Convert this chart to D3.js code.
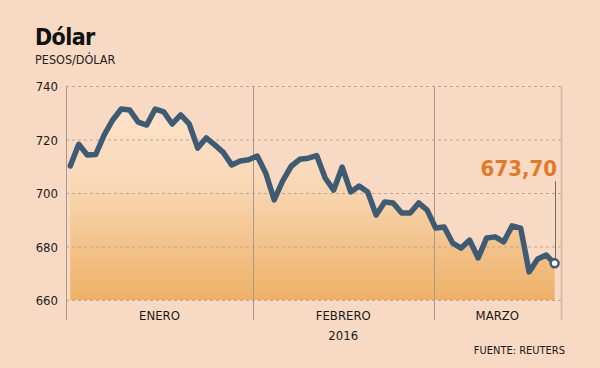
<!DOCTYPE html>
<html>
<head>
<meta charset="utf-8">
<script src="https://cdn.jsdelivr.net/npm/d3@7"></script>
<style>
  html, body { margin: 0; padding: 0; background: #f8d9c4; }
  svg { display: block; font-family: "DejaVu Sans Condensed", "DejaVu Sans", sans-serif; }
</style>
</head>
<body>
<div id="chart"></div>
<script>
// Dólar, pesos por dólar, cierre diario ene-mar 2016
const values = [
  710.1, 718.2, 714.2, 714.4, 721.7, 727.3, 731.4, 731.0, 726.5, 725.4,
  731.4, 730.3, 725.8, 729.2, 725.8, 716.8, 720.6, 718.0, 715.2, 710.5,
  712.0, 712.4, 713.8, 707.5, 697.4, 704.5, 710.0, 712.6, 713.0, 714.0,
  705.6, 701.1, 709.7, 700.4, 702.6, 700.4, 691.8, 696.6, 696.3, 692.5,
  692.5, 696.3, 693.6, 686.9, 687.3, 681.3, 679.4, 682.4, 675.7, 683.2,
  683.6, 681.7, 687.7, 686.9, 670.5, 675.3, 676.8, 673.7
];
const yTicks = [660, 680, 700, 720, 740];
const months = ['ENERO', 'FEBRERO', 'MARZO'];
// month boundaries, in day index units
const monthEdges = [-0.5, 21.5, 42.75, 57.75];
const lastLabel = '673,70';

const width = 600, height = 368;
const margin = { left: 66, right: 39, top: 86, bottom: 68 };

const svg = d3.select('#chart').append('svg')
  .attr('width', width)
  .attr('height', height);

const x = d3.scaleLinear()
  .domain([monthEdges[0], monthEdges[monthEdges.length - 1]])
  .range([margin.left, width - margin.right]);

const y = d3.scaleLinear()
  .domain([660, 740])
  .range([height - margin.bottom, margin.top]);

// gradient for the area
const defs = svg.append('defs');
const grad = defs.append('linearGradient')
  .attr('id', 'areaGrad')
  .attr('gradientUnits', 'userSpaceOnUse')
  .attr('x1', 0).attr('x2', 0)
  .attr('y1', y(740)).attr('y2', y(660));
grad.append('stop').attr('offset', '0%').attr('stop-color', '#fce6d2');
grad.append('stop').attr('offset', '45%').attr('stop-color', '#f9d8b6');
grad.append('stop').attr('offset', '100%').attr('stop-color', '#eeb067');

// title
svg.append('text')
  .attr('x', 35).attr('y', 45)
  .attr('font-size', 23).attr('font-weight', 'bold')
  .attr('letter-spacing', -0.6)
  .attr('fill', '#111')
  .text('Dólar');
svg.append('text')
  .attr('x', 35).attr('y', 64)
  .attr('font-size', 12.5)
  .attr('fill', '#222')
  .text('PESOS/DÓLAR');

// area
const area = d3.area()
  .x((d, i) => x(i))
  .y0(y(660))
  .y1(d => y(d));
svg.append('path')
  .datum(values)
  .attr('d', area)
  .attr('fill', 'url(#areaGrad)');

// horizontal dashed grid
svg.append('g')
  .selectAll('line')
  .data(yTicks)
  .join('line')
  .attr('x1', x.range()[0]).attr('x2', x.range()[1])
  .attr('y1', d => y(d) + 0.5).attr('y2', d => y(d) + 0.5)
  .attr('stroke', '#bba595')
  .attr('stroke-width', 1)
  .attr('stroke-dasharray', '3,3');

// y tick labels
svg.append('g')
  .selectAll('text')
  .data(yTicks)
  .join('text')
  .attr('x', 58)
  .attr('y', d => y(d) + 5)
  .attr('text-anchor', 'end')
  .attr('font-size', 13)
  .attr('fill', '#1a1a1a')
  .text(d => d);

// month separators
svg.append('g')
  .selectAll('line')
  .data(monthEdges)
  .join('line')
  .attr('x1', d => Math.round(x(d)) + 0.5).attr('x2', d => Math.round(x(d)) + 0.5)
  .attr('y1', y(740)).attr('y2', 320)
  .attr('stroke', (d, i) => i === monthEdges.length - 1 ? '#d6bcab' : '#a8998f')
  .attr('stroke-width', (d, i) => i === monthEdges.length - 1 ? 2 : 1);

// month labels
svg.append('g')
  .selectAll('text')
  .data(months)
  .join('text')
  .attr('x', (d, i) => (x(monthEdges[i]) + x(monthEdges[i + 1])) / 2)
  .attr('y', 320)
  .attr('text-anchor', 'middle')
  .attr('font-size', 13)
  .attr('fill', '#1a1a1a')
  .text(d => d);

svg.append('text')
  .attr('x', (x(monthEdges[1]) + x(monthEdges[2])) / 2)
  .attr('y', 340)
  .attr('text-anchor', 'middle')
  .attr('font-size', 13)
  .attr('fill', '#1a1a1a')
  .text('2016');

svg.append('text')
  .attr('x', 565)
  .attr('y', 354)
  .attr('text-anchor', 'end')
  .attr('font-size', 11)
  .attr('fill', '#1a1a1a')
  .text('FUENTE: REUTERS');

// line
const line = d3.line()
  .x((d, i) => x(i))
  .y(d => y(d));
svg.append('path')
  .datum(values)
  .attr('d', line)
  .attr('fill', 'none')
  .attr('stroke', '#3f5b73')
  .attr('stroke-width', 5.5)
  .attr('stroke-linejoin', 'round')
  .attr('stroke-linecap', 'round');

// last value annotation
const li = values.length - 1;
const lx = x(li), ly = y(values[li]);
svg.append('line')
  .attr('x1', Math.round(lx) + 0.5).attr('x2', Math.round(lx) + 0.5)
  .attr('y1', 181).attr('y2', ly)
  .attr('stroke', '#6e6e6e')
  .attr('stroke-width', 1);
svg.append('circle')
  .attr('cx', lx).attr('cy', ly)
  .attr('r', 4)
  .attr('fill', '#fff')
  .attr('stroke', '#3f5b73')
  .attr('stroke-width', 2.5);
svg.append('text')
  .attr('x', 557).attr('y', 176)
  .attr('text-anchor', 'end')
  .attr('font-size', 22).attr('font-weight', 'bold')
  .attr('fill', '#e07a2a')
  .text(lastLabel);
</script>
</body>
</html>
